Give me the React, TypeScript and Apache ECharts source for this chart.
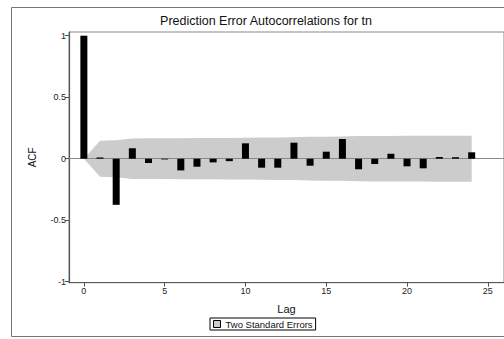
import React, { useEffect, useRef } from "react";
import * as echarts from "echarts";

const lags = [0, 1, 2, 3, 4, 5, 6, 7, 8, 9, 10, 11, 12, 13, 14, 15, 16, 17, 18, 19, 20, 21, 22, 23, 24];
const acfValues = [1, 0.01, -0.375, 0.085, -0.035, -0.006, -0.095, -0.065, -0.03, -0.02, 0.125, -0.073, -0.073, 0.13, -0.057, 0.057, 0.16, -0.086, -0.043, 0.04, -0.062, -0.078, 0.014, 0.012, 0.052];
const twoStdErr = [0, 0.146, 0.15, 0.165, 0.166, 0.166, 0.167, 0.168, 0.168, 0.169, 0.17, 0.172, 0.173, 0.174, 0.178, 0.179, 0.18, 0.184, 0.185, 0.185, 0.186, 0.186, 0.187, 0.187, 0.187];
const xTicks = [0, 5, 10, 15, 20, 25];
const yTicks = [-1, -0.5, 0, 0.5, 1];
const titleText = "Prediction Error Autocorrelations for tn";
const bandName = "Two Standard Errors";

const FONT = "Liberation Sans, Arial, sans-serif";

export default function App() {
  const ref = useRef<HTMLDivElement>(null);
  useEffect(() => {
    if (!ref.current) return;
    const chart = echarts.init(ref.current, undefined, { renderer: "svg" });
    const bandColor = "#cccccc";
    chart.setOption({
      animation: false,
      backgroundColor: "#ffffff",
      textStyle: { fontFamily: FONT },
      grid: {
        left: 69,
        top: 32,
        bottom: 56.3,
        right: -5.6,
        show: true,
        borderColor: "#888888",
        borderWidth: 1,
        backgroundColor: "transparent",
      },
      legend: {
        data: [
          {
            name: bandName,
            icon: "rect",
            itemStyle: { color: bandColor, borderColor: "#000", borderWidth: 1 },
          },
        ],
        left: 210,
        top: 318,
        itemWidth: 7,
        itemHeight: 7,
        itemGap: 4,
        padding: [1, 3],
        borderColor: "#000",
        borderWidth: 1,
        backgroundColor: "#fff",
        textStyle: { fontSize: 9.5, color: "#111", fontFamily: FONT },
        selectedMode: false,
      },
      xAxis: {
        type: "value",
        min: -0.92,
        max: 26,
        name: "Lag",
        nameLocation: "middle",
        nameGap: 21,
        nameTextStyle: { fontSize: 11, color: "#111", fontFamily: FONT },
        axisLine: { show: true, onZero: false, lineStyle: { color: "#555", width: 1.2 } },
        axisTick: { show: true, length: 4, customValues: xTicks, lineStyle: { color: "#555" } },
        axisLabel: { customValues: xTicks, fontSize: 9, color: "#222", margin: 4, fontFamily: FONT },
        splitLine: { show: false },
      },
      yAxis: {
        type: "value",
        min: -1.008,
        max: 1.03,
        name: "ACF",
        nameLocation: "middle",
        nameRotate: 90,
        nameGap: 32,
        nameTextStyle: { fontSize: 10, color: "#111", fontFamily: FONT },
        axisLine: { show: true, onZero: false, lineStyle: { color: "#555", width: 1.2 } },
        axisTick: { show: true, length: 4, customValues: yTicks, lineStyle: { color: "#555" } },
        axisLabel: { customValues: yTicks, fontSize: 9, color: "#222", margin: 3, fontFamily: FONT },
        splitLine: { show: false },
      },
      graphic: [
        {
          type: "rect",
          silent: true,
          shape: { x: 11.5, y: 7.5, width: 510, height: 329 },
          style: { fill: "none", stroke: "#777", lineWidth: 1 },
          z: 100,
        },
        {
          type: "text",
          x: 266,
          y: 21,
          style: {
            text: titleText,
            font: "12.5px " + FONT,
            fill: "#111",
            textAlign: "center",
            textVerticalAlign: "middle",
          },
        },
      ],
      series: [
        {
          name: bandName,
          type: "line",
          data: lags.map((l, i) => [l, twoStdErr[i]]),
          symbol: "none",
          lineStyle: { width: 0, color: bandColor },
          itemStyle: { color: bandColor },
          areaStyle: { color: bandColor, opacity: 1 },
          z: 1,
        },
        {
          name: bandName,
          type: "line",
          data: lags.map((l, i) => [l, -twoStdErr[i]]),
          symbol: "none",
          lineStyle: { width: 0, color: bandColor },
          itemStyle: { color: bandColor },
          areaStyle: { color: bandColor, opacity: 1 },
          z: 1,
        },
        {
          name: "ACF",
          type: "bar",
          data: lags.map((l, i) => [l, acfValues[i]]),
          barWidth: 7,
          itemStyle: { color: "#000" },
          z: 3,
          markLine: {
            silent: true,
            symbol: "none",
            label: { show: false },
            lineStyle: { color: "#888", width: 1.2, type: "solid" },
            data: [{ yAxis: 0 }],
            z: 2,
          },
        },
      ],
    });
    return () => chart.dispose();
  }, []);
  return (
    <div
      ref={ref}
      style={{ position: "fixed", left: 0, top: 0, width: 504, height: 339 }}
    />
  );
}
